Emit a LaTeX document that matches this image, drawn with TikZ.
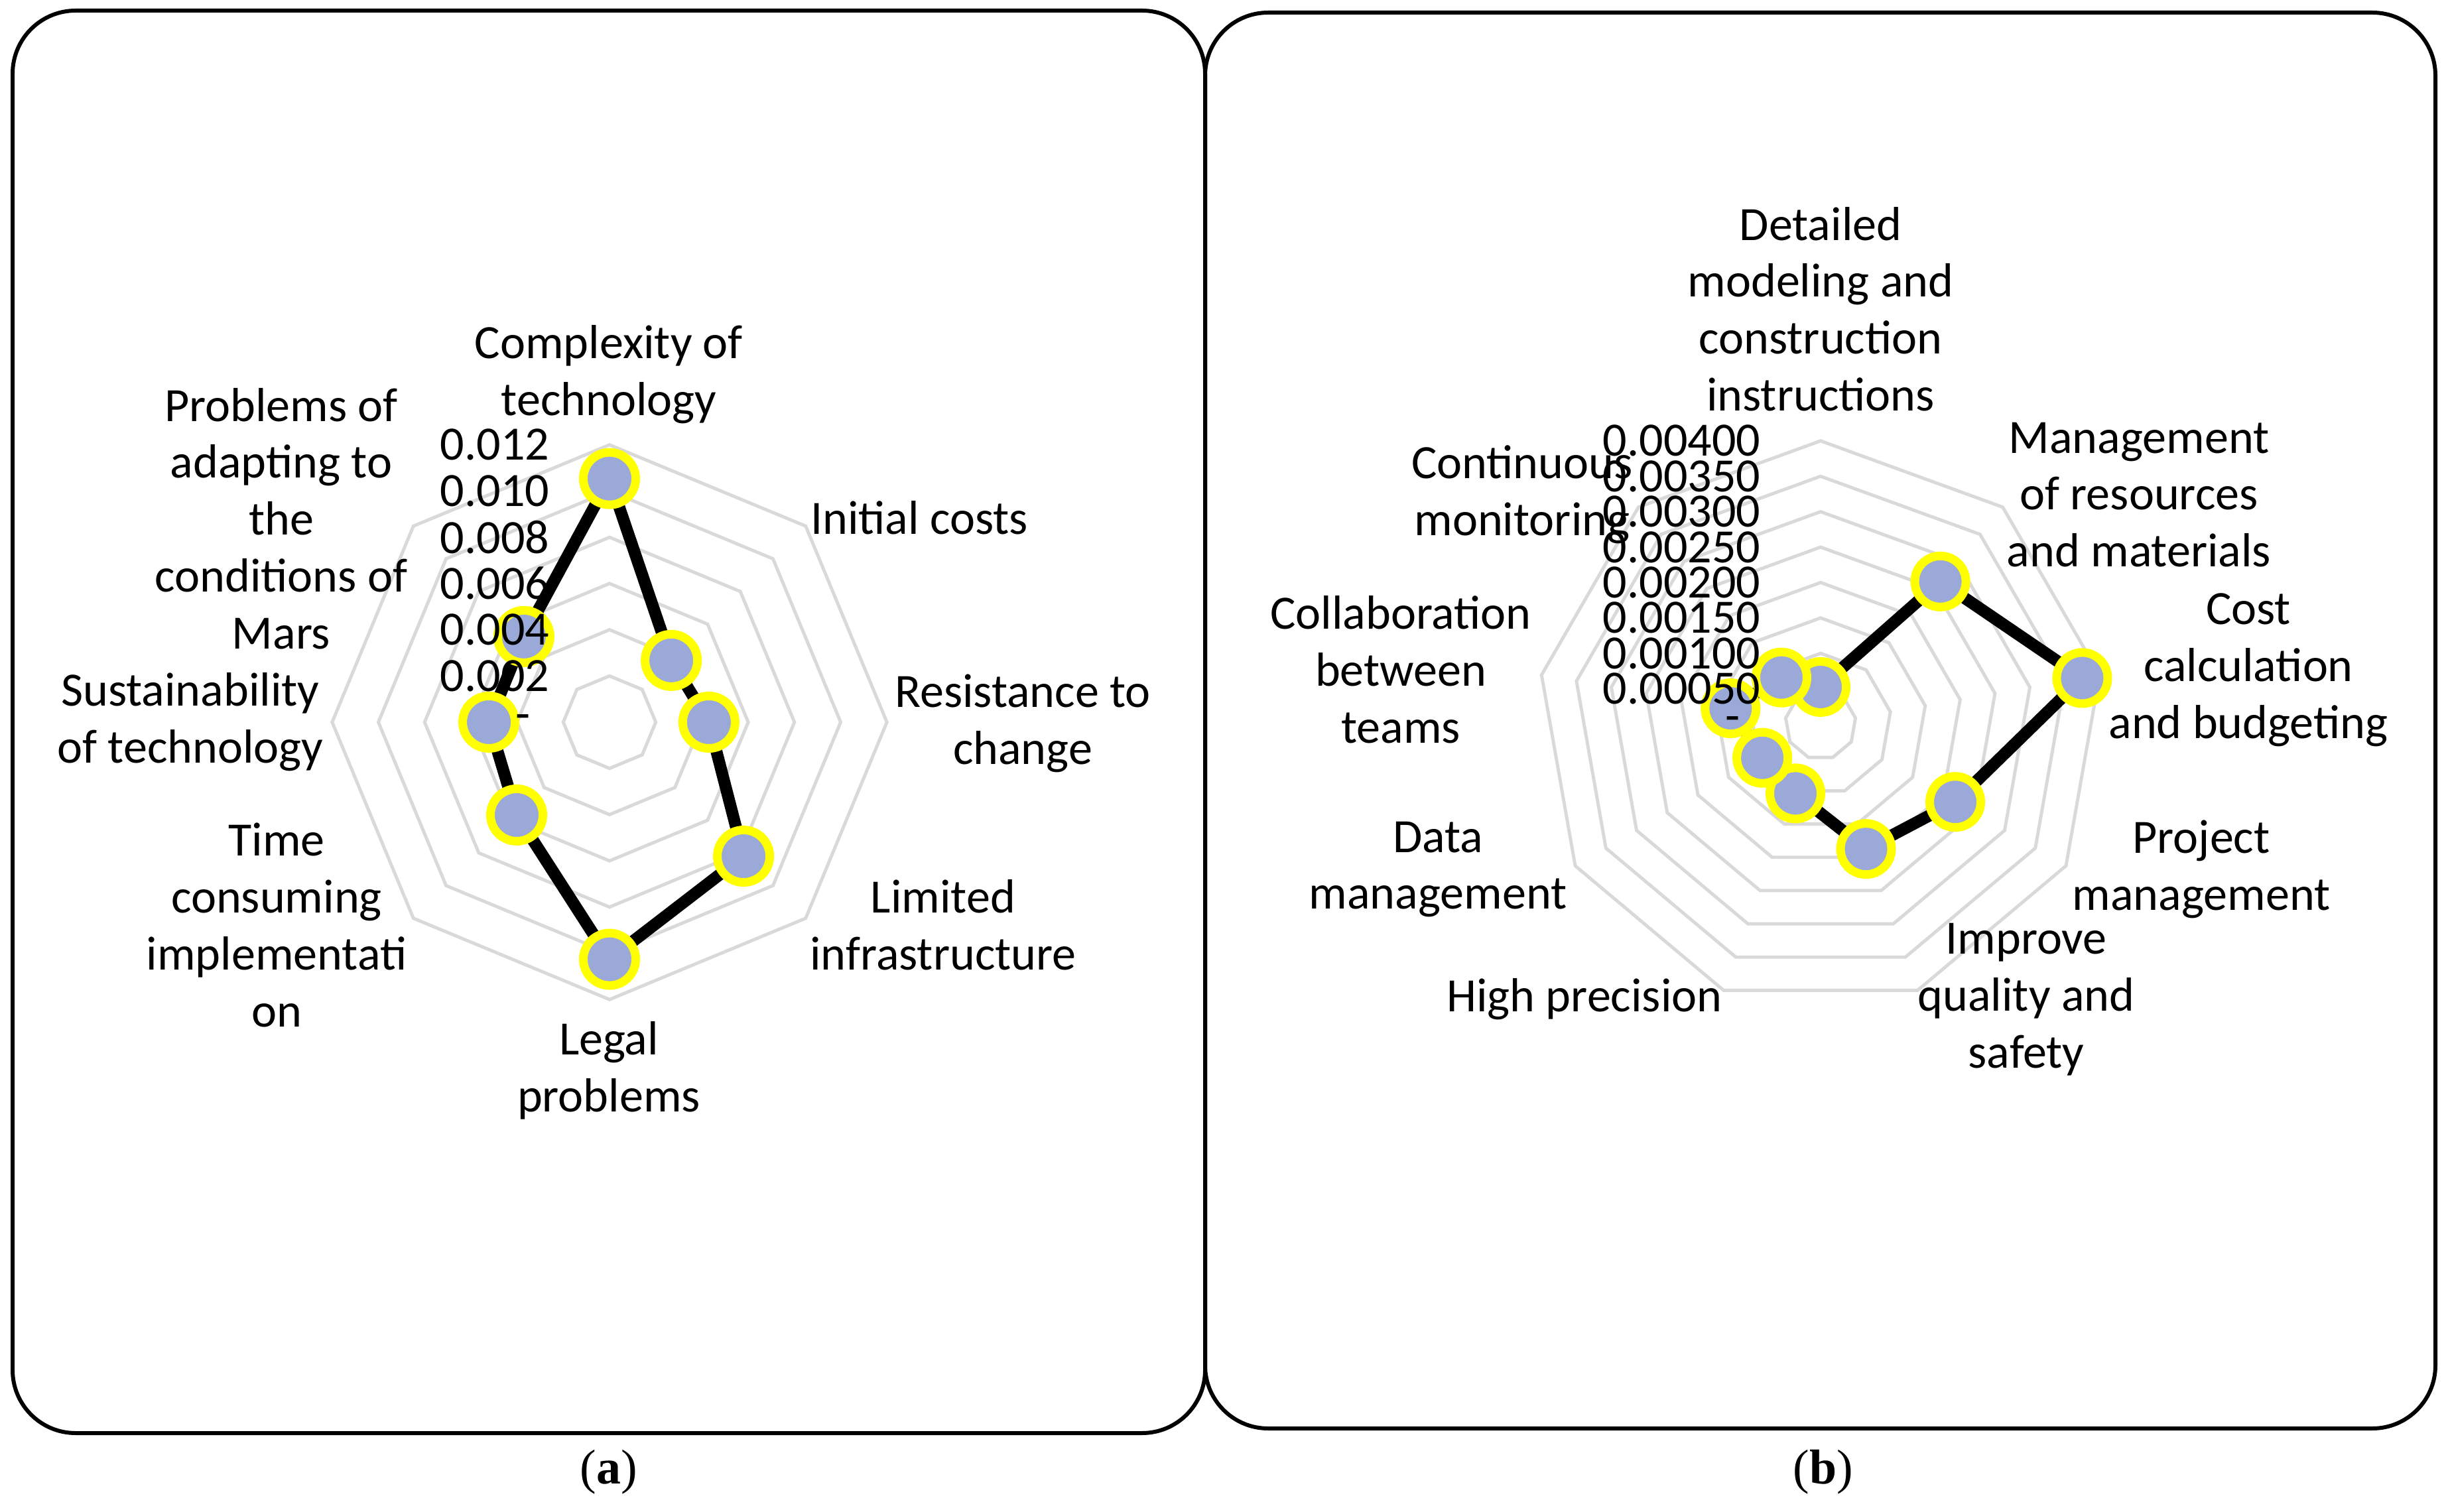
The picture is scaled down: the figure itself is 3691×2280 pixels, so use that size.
\documentclass[tikz,border=0pt]{standalone}
\usepackage{fontspec}
\setmainfont{Carlito}
\newfontfamily\capfont{Liberation Serif}
\usetikzlibrary{arrows.meta}
\definecolor{ringgray}{HTML}{D9D9D9}
\definecolor{dotblue}{HTML}{9AA9D8}
\definecolor{dotyellow}{HTML}{FFFF00}
\tikzset{
  ring/.style={draw=ringgray, line width=1.4pt},
  series/.style={draw=black, line width=5.1pt, line join=round},
  marker/.style={draw=dotyellow, fill=dotblue, line width=0.13cm},
  lbl/.style={align=center, font=\fontsize{20.5}{24.4}\selectfont, inner sep=0pt},
  tick/.style={anchor=east, font=\fontsize{20.5}{24.4}\selectfont, inner sep=0pt},
  frame/.style={draw=black, line width=1.7pt, rounded corners=0.95cm}
}
\begin{document}
\begin{tikzpicture}[x=0.01cm, y=-0.01cm]
  \useasboundingbox (0,0) rectangle (3691,2280);

  % panel frames
  \draw[frame] (19,16) rectangle (1817,2161);
  \draw[frame] (1817,19) rectangle (3672,2154);

  % ---- chart (a)
  \def\cxa{919} \def\cya{1089} \def\sta{69.7}
  \foreach \k in {1,...,6}{
    \draw[ring] ({\cxa},{\cya-\k*\sta})
      \foreach \a in {45,90,...,315}{ -- ({\cxa+\k*\sta*sin(\a)},{\cya-\k*\sta*cos(\a)}) } -- cycle;
  }
  \foreach \v [count=\i] in {5.27,1.89,2.15,4.1,5.13,2.84,2.61,2.62}{
    \coordinate (pa\i) at ({\cxa+\v*\sta*sin(45*(\i-1))},{\cya-\v*\sta*cos(45*(\i-1))});
  }
  \draw[series] (pa1) -- (pa2) -- (pa3) -- (pa4) -- (pa5) -- (pa6) -- (pa7) -- (pa8) -- cycle;
  \foreach \i in {1,...,8}{ \draw[marker] (pa\i) circle (0.395cm); }

  \node[tick] (ta0) at (800,\cya) {-};
  \foreach \t [count=\k] in {0.002,0.004,0.006,0.008,0.010,0.012}{
    \node[tick] (ta\k) at (829,{\cya-\k*\sta}) {\t};
  }

  \node[lbl] (la1) at (918,565) {Complexity of\\technology};
  \node[lbl] (la2) at (1386,781) {Initial costs};
  \node[lbl] (la3) at (1542,1091) {Resistance to\\change};
  \node[lbl] (la4) at (1422,1395) {Limited\\infrastructure};
  \node[lbl] (la5) at (918,1614) {Legal\\problems};
  \node[lbl] (la6) at (417,1395) {Time\\consuming\\implementati\\on};
  \node[lbl] (la7) at (287,1089) {Sustainability\\of technology};
  \node[lbl] (la8) at (424,782) {Problems of\\adapting to\\the\\conditions of\\Mars};

  % ---- chart (b)
  \def\cxb{2745} \def\cyb{1092} \def\stb{53.4}
  \foreach \k in {1,...,8}{
    \draw[ring] ({\cxb},{\cyb-\k*\stb})
      \foreach \a in {40,80,...,320}{ -- ({\cxb+\k*\stb*sin(\a)},{\cyb-\k*\stb*cos(\a)}) } -- cycle;
  }
  \foreach \v [count=\i] in {1.05,5.26,7.5,4.39,3.75,2.08,1.9,2.58,1.72}{
    \coordinate (pb\i) at ({\cxb+\v*\stb*sin(40*(\i-1))},{\cyb-\v*\stb*cos(40*(\i-1))});
  }
  \draw[series] (pb1) -- (pb2) -- (pb3) -- (pb4) -- (pb5) -- (pb6) -- (pb7) -- (pb8) -- (pb9) -- cycle;
  \foreach \i in {1,...,9}{ \draw[marker] (pb\i) circle (0.385cm); }

  \node[tick] (tb0) at (2624,\cyb) {-};
  \foreach \t [count=\k] in {0.00050,0.00100,0.00150,0.00200,0.00250,0.00300,0.00350,0.00400}{
    \node[tick] (tb\k) at (2655,{\cyb-\k*\stb}) {\t};
  }

  \node[lbl] (lb1) at (2745,466) {Detailed\\modeling and\\construction\\instructions};
  \node[lbl] (lb2) at (3225,746) {Management\\of resources\\and materials};
  \node[lbl] (lb3) at (3390,1010) {Cost\\calculation\\and budgeting};
  \node[lbl] (lb4) at (3319,1311) {Project\\management};
  \node[lbl] (lb5) at (3055,1507) {Improve\\quality and\\safety};
  \node[lbl] (lb6) at (2389,1507) {High precision};
  \node[lbl] (lb7) at (2168,1311) {Data\\management};
  \node[lbl] (lb8) at (2112,1010) {Collaboration\\between\\teams};
  \node[lbl] (lb9) at (2295,746) {Continuous\\monitoring};

  % captions
  \node[font=\capfont\fontsize{21}{25}\selectfont] (capa) at (918,2220) {(\textbf{a})};
  \node[font=\capfont\fontsize{21}{25}\selectfont] (capb) at (2749,2220) {(\textbf{b})};
\end{tikzpicture}
\end{document}
